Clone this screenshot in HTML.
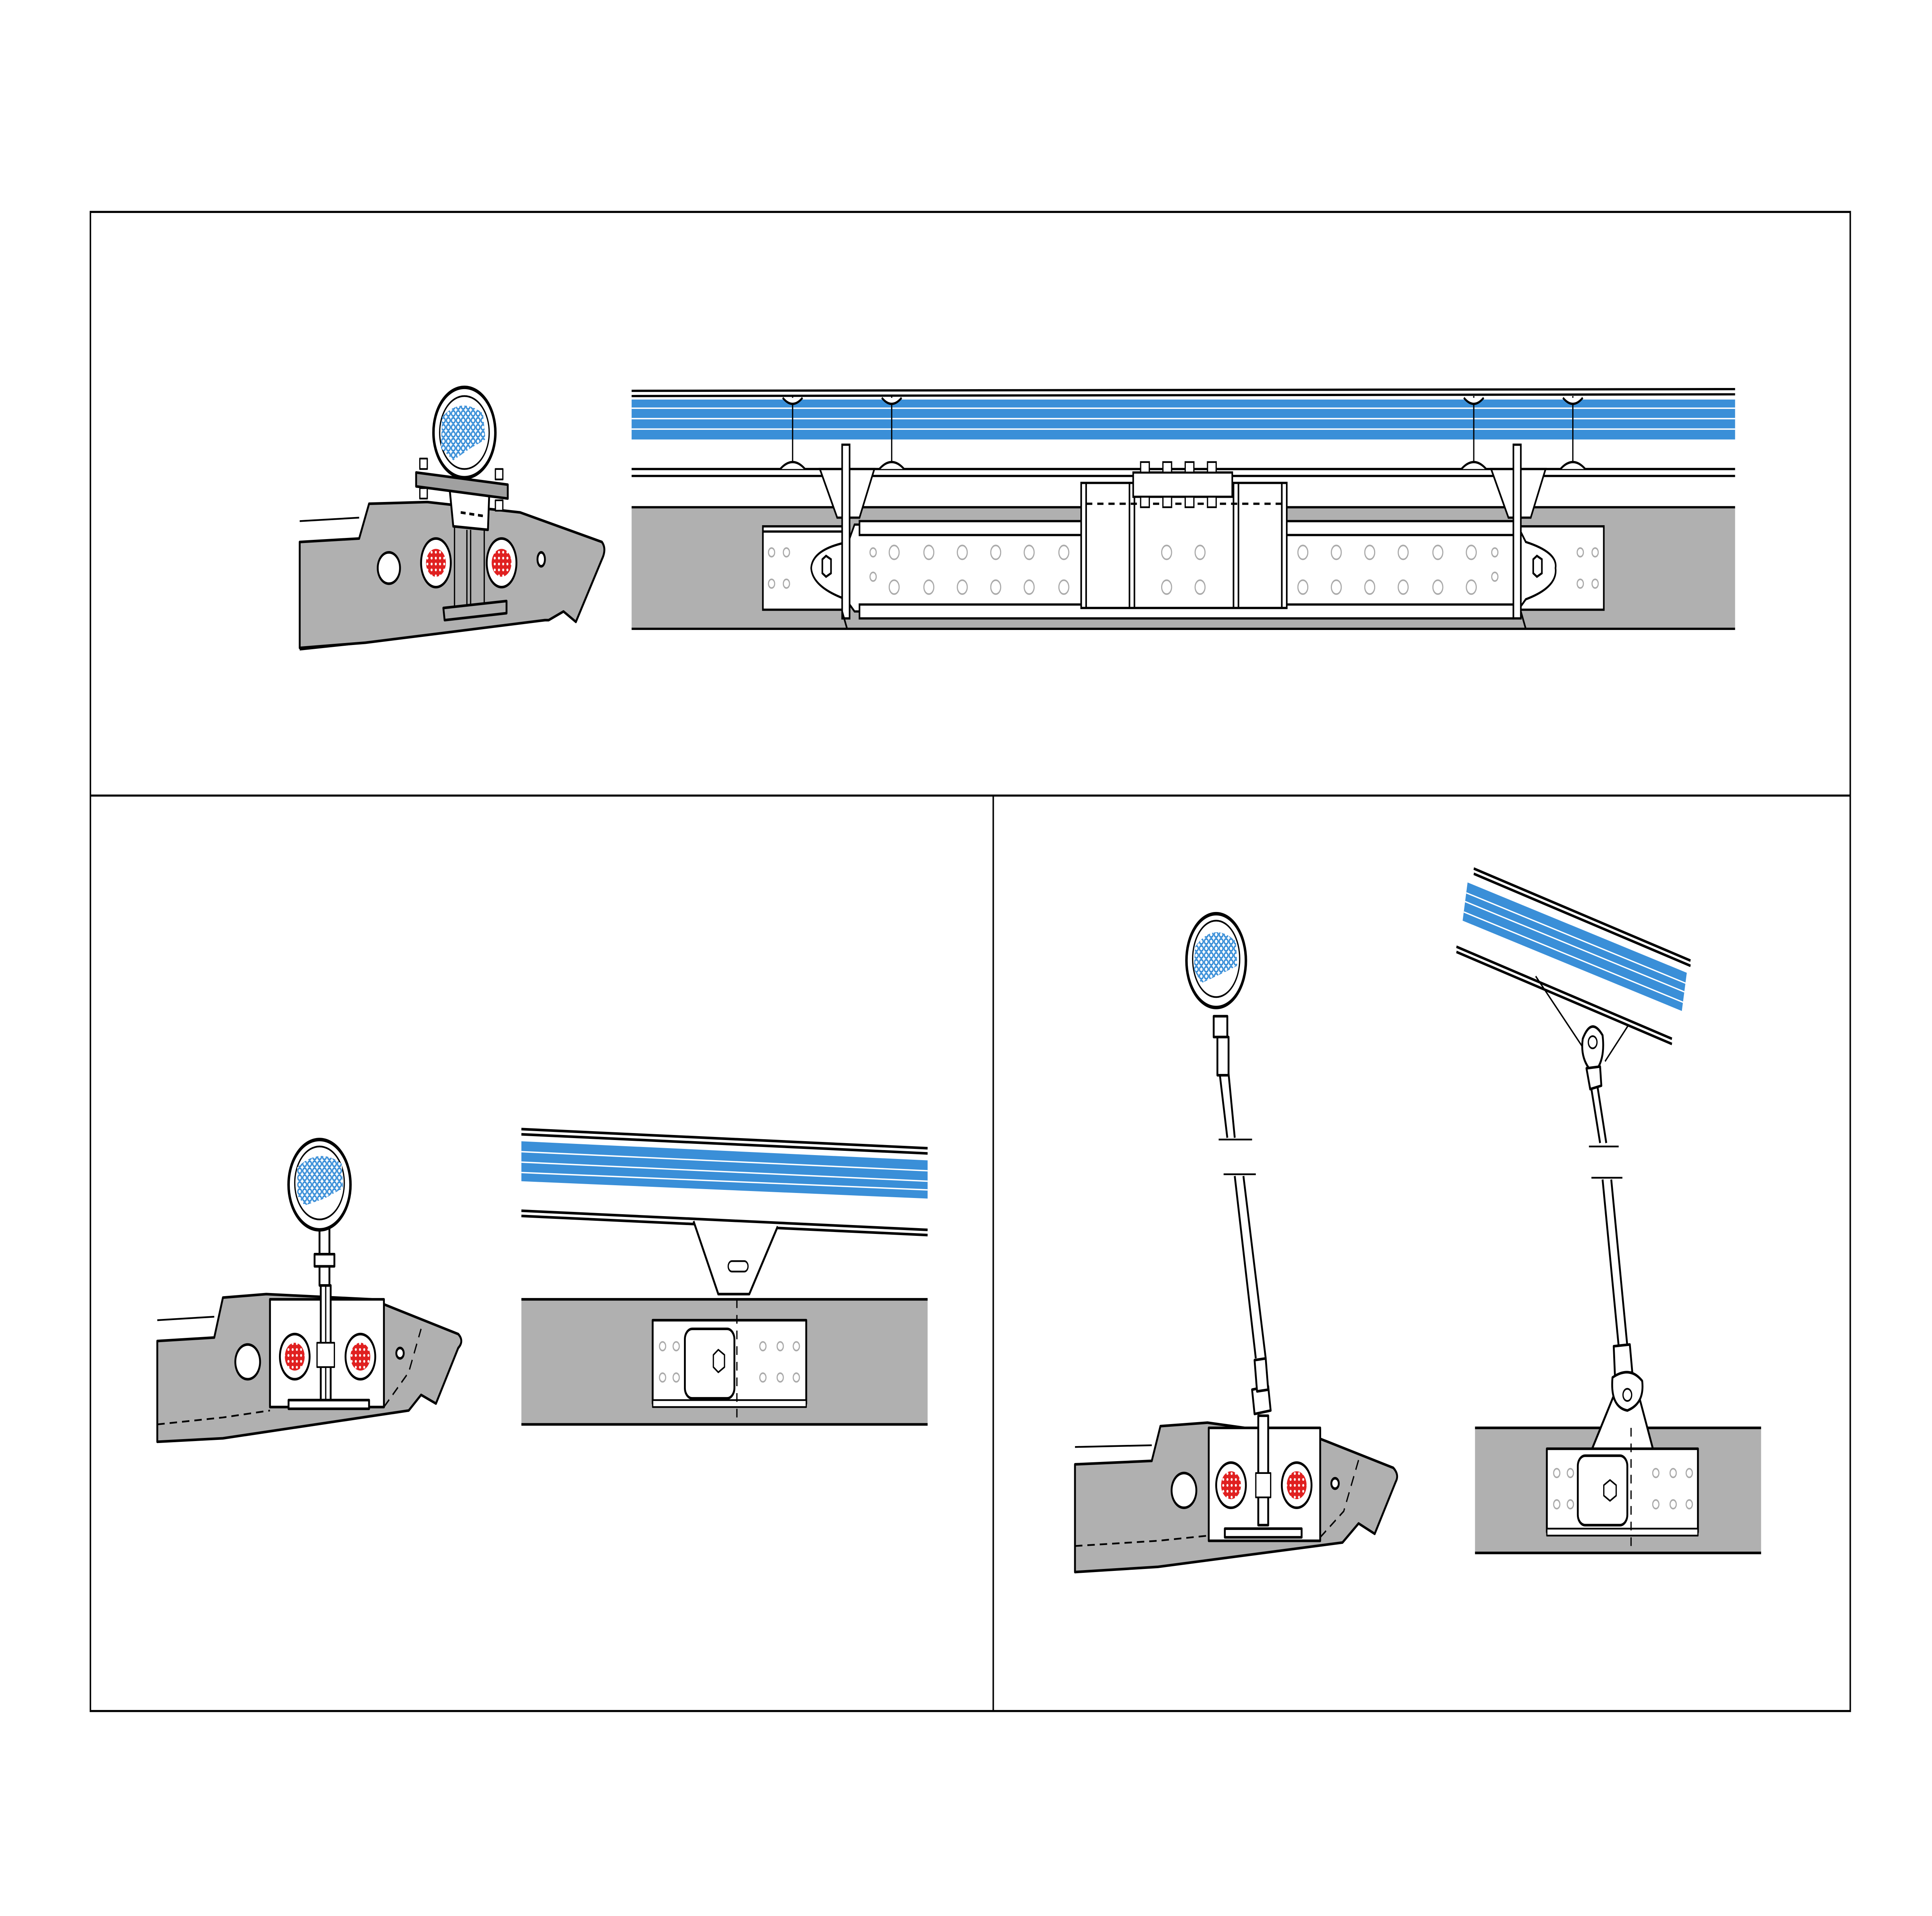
<!DOCTYPE html>
<html><head><meta charset="utf-8"><style>
html,body{margin:0;padding:0;background:#fff;width:100%;height:100%;overflow:hidden;}
svg{display:block;width:100vw;height:100vh;}
</style></head><body>
<svg viewBox="0 0 1560 1103" preserveAspectRatio="none" xmlns="http://www.w3.org/2000/svg">
<defs>
<pattern id="blue" width="4" height="4" patternUnits="userSpaceOnUse"><rect width="4" height="4" fill="#fff"/><circle cx="2" cy="2" r="1.5" fill="none" stroke="#3a8fd8" stroke-width="1"/></pattern>
<pattern id="red" width="3.4" height="3.4" patternUnits="userSpaceOnUse"><rect width="3.4" height="3.4" fill="#e02020"/><circle cx="1.7" cy="1.7" r="0.8" fill="#fff"/></pattern>
</defs>
<rect width="1560" height="1103" fill="#fff"/>
<g fill="none" stroke="#000" stroke-width="1.2">
<rect x="73" y="122" width="1421" height="863"/>
<line x1="73" y1="458" x2="1494" y2="458"/>
<line x1="802" y1="458" x2="802" y2="985"/>
</g>

<!-- ===== TOP LEFT cross section ===== -->
<g stroke="#000" stroke-width="1.5" stroke-linejoin="round">
<path d="M242 312 L290 310 L298 290 L345 289 L420 295 L486 312 Q490 316 486 322 L465 358 L455 352 L443 357 L440 357 L295 370 L242 373 Z" fill="#b0b0b0"/>
<line x1="242" y1="300" x2="290" y2="298" stroke-width="1"/>
<line x1="242" y1="374" x2="295" y2="370" stroke-width="1"/>
<circle cx="314" cy="327" r="9" fill="#fff"/>
<ellipse cx="352" cy="324" rx="12" ry="14" fill="#fff"/><circle cx="352" cy="324" r="8" fill="url(#red)" stroke="none"/>
<ellipse cx="405" cy="324" rx="12" ry="14" fill="#fff"/><circle cx="405" cy="324" r="8" fill="url(#red)" stroke="none"/>
<ellipse cx="437" cy="322" rx="3" ry="4" fill="#fff"/>
<rect x="367" y="303" width="24" height="50" fill="#b0b0b0" stroke-width="1"/>
<line x1="377" y1="305" x2="377" y2="350" stroke-width="1"/><line x1="380" y1="305" x2="380" y2="350" stroke-width="1"/>
<polygon points="358,350 409,346 409,353 359,357" fill="#b0b0b0"/>
<polygon points="363,281 395,285 394,305 366,303" fill="#fff"/>
<line x1="372" y1="295" x2="390" y2="297" stroke-dasharray="4,3"/>
<polygon points="336,272 410,279 410,287 336,280" fill="#a0a0a0"/>
<rect x="339" y="264" width="6" height="6" fill="#fff" stroke-width="1"/><rect x="400" y="270" width="6" height="6" fill="#fff" stroke-width="1"/>
<rect x="339" y="281" width="6" height="6" fill="#fff" stroke-width="1"/><rect x="400" y="288" width="6" height="6" fill="#fff" stroke-width="1"/>
<ellipse cx="375" cy="249" rx="25" ry="26" fill="#fff" stroke-width="2"/>
<ellipse cx="375" cy="249" rx="20" ry="21" fill="#fff" stroke-width="1"/>
<path d="M357 240 Q372 228 390 238 L392 253 L380 258 L366 265 L356 258 Z" fill="url(#blue)" stroke="none"/>
</g>

<!-- ===== TOP RIGHT elevation ===== -->
<g stroke="#000" stroke-width="1.3">
<rect x="510" y="292" width="891" height="70" fill="#b0b0b0" stroke="none"/>
<line x1="510" y1="292" x2="1401" y2="292"/><line x1="510" y1="362" x2="1401" y2="362"/>
<rect x="510" y="230" width="891" height="23" fill="#3a8fd8" stroke="none"/>
<g stroke="#fff" stroke-width="0.8"><line x1="510" y1="235" x2="1401" y2="235"/><line x1="510" y1="241" x2="1401" y2="241"/><line x1="510" y1="247" x2="1401" y2="247"/></g>
<line x1="510" y1="225" x2="1401" y2="224"/><line x1="510" y1="228" x2="1401" y2="227"/>
<line x1="510" y1="270" x2="1401" y2="270"/><line x1="510" y1="274" x2="1401" y2="274"/>
<g stroke-width="1">
<line x1="640" y1="228" x2="640" y2="270"/><line x1="720" y1="228" x2="720" y2="270"/>
<line x1="1190" y1="228" x2="1190" y2="270"/><line x1="1270" y1="228" x2="1270" y2="270"/>
</g>
<g fill="#fff">
<path d="M632 229 Q640 236 648 229"/><path d="M712 229 Q720 236 728 229"/><path d="M1182 229 Q1190 236 1198 229"/><path d="M1262 229 Q1270 236 1278 229"/>
<path d="M630 270 Q640 262 650 270"/><path d="M710 270 Q720 262 730 270"/><path d="M1180 270 Q1190 262 1200 270"/><path d="M1260 270 Q1270 262 1280 270"/>
</g>
<rect x="616" y="303" width="70" height="48" fill="#fff"/>
<rect x="1225" y="303" width="70" height="48" fill="#fff"/>
<path d="M685 312 L690 302 H1225 L1232 312 Q1258 318 1256 327 Q1258 338 1232 345 L1225 352 H690 L683 345 Q656 338 655 327 Q656 316 685 312 Z" fill="#fff"/>
<rect x="694" y="300" width="528" height="8" fill="#fff"/>
<rect x="694" y="348" width="528" height="8" fill="#fff"/>
<line x1="616" y1="306" x2="686" y2="306"/>
<rect x="873" y="278" width="166" height="72" fill="#fff"/>
<line x1="877" y1="278" x2="877" y2="350"/><line x1="912" y1="278" x2="912" y2="350"/><line x1="916" y1="278" x2="916" y2="350"/><line x1="996" y1="278" x2="996" y2="350"/><line x1="1000" y1="278" x2="1000" y2="350"/><line x1="1035" y1="278" x2="1035" y2="350"/>
<line x1="877" y1="290" x2="1035" y2="290" stroke-dasharray="5,4"/>
<rect x="915" y="272" width="80" height="14" fill="#fff"/>
<g fill="#fff" stroke-width="1">
<rect x="921" y="266" width="7" height="6"/><rect x="939" y="266" width="7" height="6"/><rect x="957" y="266" width="7" height="6"/><rect x="975" y="266" width="7" height="6"/>
<rect x="921" y="286" width="7" height="6"/><rect x="939" y="286" width="7" height="6"/><rect x="957" y="286" width="7" height="6"/><rect x="975" y="286" width="7" height="6"/>
</g>
<polygon points="662,270 706,270 694,298 676,298" fill="#fff"/>
<polygon points="1204,270 1248,270 1236,298 1218,298" fill="#fff"/>
<rect x="680" y="256" width="6" height="100" fill="#fff"/><rect x="1222" y="256" width="6" height="100" fill="#fff"/>
<polygon points="664,322 667,320 671,322 671,330 667,332 664,330" fill="#fff"/>
<polygon points="1238,322 1241,320 1245,322 1245,330 1241,332 1238,330" fill="#fff"/>
<path d="M680 352 L684 362 M1228 352 L1232 362" />
</g>
<g fill="none" stroke="#aaa" stroke-width="0.9">
<circle cx="623" cy="318" r="2.5"/><circle cx="623" cy="336" r="2.5"/><circle cx="635" cy="318" r="2.5"/><circle cx="635" cy="336" r="2.5"/>
<circle cx="1276" cy="318" r="2.5"/><circle cx="1276" cy="336" r="2.5"/><circle cx="1288" cy="318" r="2.5"/><circle cx="1288" cy="336" r="2.5"/>
<circle cx="705" cy="318" r="2.5"/><circle cx="705" cy="332" r="2.5"/>
<circle cx="722" cy="318" r="4"/><circle cx="750" cy="318" r="4"/><circle cx="777" cy="318" r="4"/><circle cx="804" cy="318" r="4"/><circle cx="831" cy="318" r="4"/><circle cx="859" cy="318" r="4"/>
<circle cx="722" cy="338" r="4"/><circle cx="750" cy="338" r="4"/><circle cx="777" cy="338" r="4"/><circle cx="804" cy="338" r="4"/><circle cx="831" cy="338" r="4"/><circle cx="859" cy="338" r="4"/>
<circle cx="942" cy="318" r="4"/><circle cx="969" cy="318" r="4"/><circle cx="942" cy="338" r="4"/><circle cx="969" cy="338" r="4"/>
<circle cx="1052" cy="318" r="4"/><circle cx="1079" cy="318" r="4"/><circle cx="1106" cy="318" r="4"/><circle cx="1133" cy="318" r="4"/><circle cx="1161" cy="318" r="4"/><circle cx="1188" cy="318" r="4"/>
<circle cx="1052" cy="338" r="4"/><circle cx="1079" cy="338" r="4"/><circle cx="1106" cy="338" r="4"/><circle cx="1133" cy="338" r="4"/><circle cx="1161" cy="338" r="4"/><circle cx="1188" cy="338" r="4"/>
<circle cx="1207" cy="318" r="2.5"/><circle cx="1207" cy="332" r="2.5"/>
</g>

<!-- ===== BOTTOM LEFT ===== -->
<g stroke="#000" stroke-width="1.5" stroke-linejoin="round">
<path d="M127 772 L173 770 L180 747 L215 745 L300 748 L370 768 Q375 772 370 776 L352 808 L340 803 L330 812 L180 828 L127 830 Z" fill="#b0b0b0"/>
<line x1="127" y1="760" x2="173" y2="758" stroke-width="1"/>
<path d="M127 820 L180 816 L218 812" fill="none" stroke-dasharray="6,4" stroke-width="1"/>
<path d="M310 810 L330 790 L340 765" fill="none" stroke-dasharray="6,4" stroke-width="1"/>
<rect x="218" y="748" width="92" height="62" fill="#fff"/>
<circle cx="200" cy="784" r="10" fill="#fff"/>
<ellipse cx="238" cy="781" rx="12" ry="13" fill="#fff"/><circle cx="238" cy="781" r="8" fill="url(#red)" stroke="none"/>
<ellipse cx="291" cy="781" rx="12" ry="13" fill="#fff"/><circle cx="291" cy="781" r="8" fill="url(#red)" stroke="none"/>
<circle cx="323" cy="779" r="3" fill="#fff"/>
<rect x="259" y="740" width="8" height="68" fill="#fff"/>
<line x1="263" y1="740" x2="263" y2="808" stroke-width="1"/>
<rect x="233" y="806" width="65" height="5" fill="#fff"/>
<rect x="256" y="773" width="14" height="14" fill="#fff" stroke-width="1"/>
<rect x="258" y="705" width="8" height="35" fill="#fff"/>
<rect x="254" y="722" width="16" height="7" fill="#fff"/>
<ellipse cx="258" cy="682" rx="25" ry="26" fill="#fff" stroke-width="2"/>
<ellipse cx="258" cy="681" rx="20" ry="21" fill="#fff" stroke-width="1"/>
<path d="M240 672 Q258 660 276 670 L277 684 L262 690 L246 694 L240 688 Z" fill="url(#blue)" stroke="none"/>
<!-- rail -->
<rect x="421" y="748" width="328" height="72" fill="#b0b0b0" stroke="none"/>
<line x1="421" y1="748" x2="749" y2="748"/><line x1="421" y1="820" x2="749" y2="820"/>
<polygon points="421,657 749,668 749,690 421,680" fill="#3a8fd8" stroke="none"/>
<g stroke="#fff" stroke-width="0.8"><line x1="421" y1="663" x2="749" y2="674"/><line x1="421" y1="669" x2="749" y2="680"/><line x1="421" y1="675" x2="749" y2="685"/></g>
<line x1="421" y1="650" x2="749" y2="661"/><line x1="421" y1="653" x2="749" y2="664"/>
<line x1="421" y1="697" x2="749" y2="708"/><line x1="421" y1="700" x2="749" y2="711"/>
<path d="M560 703 L580 745 L605 745 L628 706" fill="#fff"/>
<rect x="588" y="726" width="16" height="6" rx="3" fill="#fff" stroke-width="1"/>
<rect x="527" y="760" width="124" height="48" fill="#fff"/>
<rect x="527" y="806" width="124" height="4" fill="#fff" stroke-width="1"/>
<rect x="553" y="765" width="40" height="40" rx="6" fill="#fff"/>
<line x1="595" y1="748" x2="595" y2="820" stroke-dasharray="5,4" stroke-width="1"/>
<polygon points="576,780 580,777 585,780 585,787 580,790 576,787" fill="#fff" stroke-width="1"/>
</g>
<g fill="none" stroke="#aaa" stroke-width="0.9">
<circle cx="535" cy="775" r="2.5"/><circle cx="546" cy="775" r="2.5"/><circle cx="535" cy="793" r="2.5"/><circle cx="546" cy="793" r="2.5"/>
<circle cx="616" cy="775" r="2.5"/><circle cx="630" cy="775" r="2.5"/><circle cx="643" cy="775" r="2.5"/>
<circle cx="616" cy="793" r="2.5"/><circle cx="630" cy="793" r="2.5"/><circle cx="643" cy="793" r="2.5"/>
</g>

<!-- ===== BOTTOM RIGHT ===== -->
<g stroke="#000" stroke-width="1.5" stroke-linejoin="round">
<path d="M868 843 L930 841 L937 821 L975 819 L1065 828 L1125 845 Q1130 849 1127 853 L1110 883 L1097 877 L1084 888 L935 902 L868 905 Z" fill="#b0b0b0"/>
<line x1="868" y1="833" x2="930" y2="832" stroke-width="1"/>
<path d="M868 890 L935 887 L976 884" fill="none" stroke-dasharray="6,4" stroke-width="1"/>
<path d="M1066 885 L1085 870 L1098 838" fill="none" stroke-dasharray="6,4" stroke-width="1"/>
<rect x="976" y="822" width="90" height="65" fill="#fff"/>
<circle cx="956" cy="858" r="10" fill="#fff"/>
<ellipse cx="994" cy="855" rx="12" ry="13" fill="#fff"/><circle cx="994" cy="855" r="8" fill="url(#red)" stroke="none"/>
<ellipse cx="1047" cy="855" rx="12" ry="13" fill="#fff"/><circle cx="1047" cy="855" r="8" fill="url(#red)" stroke="none"/>
<circle cx="1078" cy="854" r="3" fill="#fff"/>
<rect x="1016" y="815" width="8" height="63" fill="#fff"/>
<rect x="989" y="880" width="62" height="5" fill="#fff"/>
<rect x="1014" y="848" width="12" height="14" fill="#fff" stroke-width="1"/>
<polygon points="1011,800 1024,798 1026,812 1013,814" fill="#fff"/>
<polygon points="1013,783 1022,782 1024,800 1015,801" fill="#fff"/>
<ellipse cx="982" cy="553" rx="24" ry="27" fill="#fff" stroke-width="2"/>
<ellipse cx="982" cy="552" rx="19" ry="22" fill="#fff" stroke-width="1"/>
<path d="M965 545 Q980 530 998 542 L999 556 L985 561 L970 566 L964 558 Z" fill="url(#blue)" stroke="none"/>
<rect x="980" y="585" width="11" height="12" fill="#fff"/>
<rect x="983" y="597" width="9" height="22" fill="#fff"/>
<path d="M985 619 L991 655 M992 618 L997 655" fill="none"/>
<line x1="984" y1="656" x2="1011" y2="656" stroke-width="1"/>
<line x1="988" y1="676" x2="1014" y2="676" stroke-width="1"/>
<path d="M997 677 L1014 782 M1004 677 L1022 782" fill="none"/>
<!-- right rail -->
<rect x="1191" y="822" width="231" height="72" fill="#b0b0b0" stroke="none"/>
<line x1="1191" y1="822" x2="1422" y2="822"/><line x1="1191" y1="894" x2="1422" y2="894"/>
<polygon points="1185,508 1362,560 1358,582 1181,530" fill="#3a8fd8" stroke="none"/>
<g stroke="#fff" stroke-width="0.8"><line x1="1184" y1="514" x2="1361" y2="566"/><line x1="1183" y1="519" x2="1360" y2="571"/><line x1="1182" y1="525" x2="1359" y2="577"/></g>
<line x1="1190" y1="500" x2="1365" y2="553"/><line x1="1190" y1="503" x2="1365" y2="556"/>
<line x1="1176" y1="545" x2="1350" y2="598"/><line x1="1176" y1="548" x2="1350" y2="601"/>
<path d="M1240 562 L1280 605 M1315 590 L1296 611" fill="none" stroke-width="1"/>
<path d="M1278 598 Q1285 585 1294 596 Q1296 608 1290 615 L1283 615 Q1276 608 1278 598 Z" fill="#fff"/>
<circle cx="1286" cy="600" r="3.5" fill="#fff" stroke-width="1"/>
<polygon points="1281,615 1292,614 1293,625 1284,627" fill="#fff"/>
<path d="M1285 627 L1292 658 M1290 626 L1297 658" fill="none"/>
<line x1="1283" y1="660" x2="1307" y2="660" stroke-width="1"/>
<line x1="1285" y1="678" x2="1310" y2="678" stroke-width="1"/>
<path d="M1294 679 L1307 775 M1301 679 L1314 775" fill="none"/>
<path d="M1285 835 L1305 800 L1322 800 L1335 835 Z" fill="#fff"/>
<polygon points="1303,775 1316,774 1318,790 1304,792" fill="#fff"/>
<path d="M1302 793 Q1316 786 1326 795 Q1328 808 1314 812 Q1300 810 1302 793 Z" fill="#fff"/>
<circle cx="1314" cy="803" r="3.5" fill="#fff" stroke-width="1"/>
<rect x="1249" y="834" width="122" height="48" fill="#fff"/>
<rect x="1249" y="880" width="122" height="4" fill="#fff" stroke-width="1"/>
<rect x="1274" y="838" width="40" height="40" rx="6" fill="#fff"/>
<line x1="1317" y1="822" x2="1317" y2="894" stroke-dasharray="5,4" stroke-width="1"/>
<polygon points="1295,855 1300,852 1305,855 1305,861 1300,864 1295,861" fill="#fff" stroke-width="1"/>
</g>
<g fill="none" stroke="#aaa" stroke-width="0.9">
<circle cx="1257" cy="848" r="2.5"/><circle cx="1268" cy="848" r="2.5"/><circle cx="1257" cy="866" r="2.5"/><circle cx="1268" cy="866" r="2.5"/>
<circle cx="1337" cy="848" r="2.5"/><circle cx="1351" cy="848" r="2.5"/><circle cx="1364" cy="848" r="2.5"/>
<circle cx="1337" cy="866" r="2.5"/><circle cx="1351" cy="866" r="2.5"/><circle cx="1364" cy="866" r="2.5"/>
</g>
</svg>
</body></html>
